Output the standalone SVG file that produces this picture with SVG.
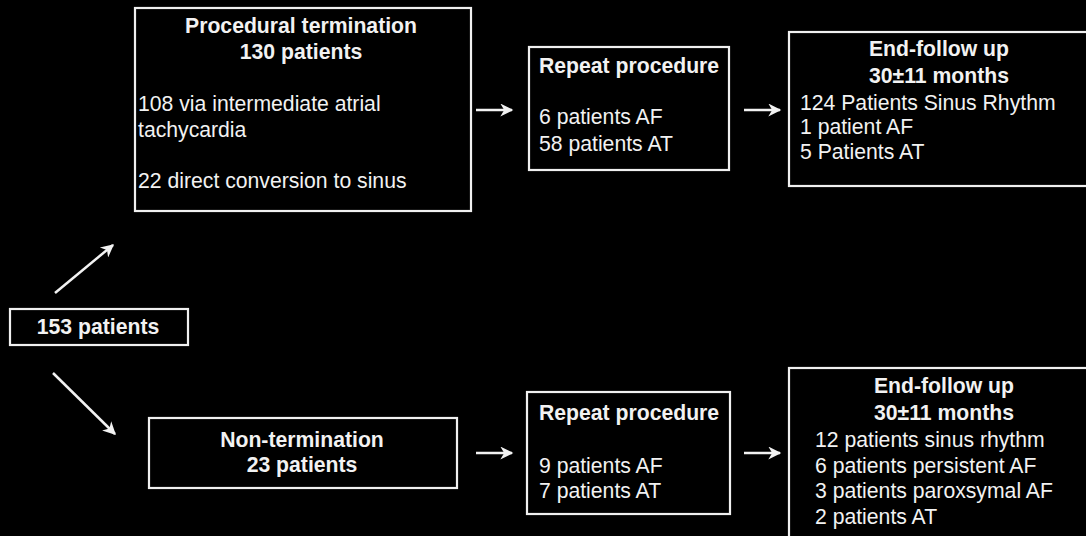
<svg xmlns="http://www.w3.org/2000/svg" width="1086" height="536" viewBox="0 0 1086 536">
  <defs>
    <style>
      .bg { fill: #000000; }
      .box { fill: #000000; stroke: #f0f0f0; stroke-width: 2.2; }
      .t { font-family: "Liberation Sans", Arial, Helvetica, sans-serif; font-size: 21.2px; fill: #f2f2f2; }
      .b { font-family: "Liberation Sans", Arial, Helvetica, sans-serif; font-size: 21.2px; font-weight: bold; fill: #f2f2f2; }
      .c { text-anchor: middle; }
      .conn { stroke: #f2f2f2; stroke-width: 2.5; fill: none; marker-end: url(#arrow); }
    </style>
    <marker id="arrow" viewBox="0 0 10 10" refX="9" refY="5" markerWidth="15" markerHeight="13" markerUnits="userSpaceOnUse" orient="auto">
      <path d="M0,0 L10,5 L0,10 L3,5 z" fill="#f2f2f2"/>
    </marker>
  </defs>
  <rect class="bg" x="0" y="0" width="1086" height="536"/>

  <g id="start">
    <rect class="box" x="10" y="309" width="178" height="36"/>
    <text class="b c" x="98" y="334">153 patients</text>
  </g>

  <g id="termination">
    <rect class="box" x="135" y="8" width="336" height="203"/>
    <text class="b c" x="301" y="33">Procedural termination</text>
    <text class="b c" x="301" y="59">130 patients</text>
    <text class="t" x="138" y="111">108 via intermediate atrial</text>
    <text class="t" x="138" y="137">tachycardia</text>
    <text class="t" x="138" y="188">22 direct conversion to sinus</text>
  </g>

  <g id="repeat-top">
    <rect class="box" x="529" y="47" width="200" height="123"/>
    <text class="b" x="539" y="73">Repeat procedure</text>
    <text class="t" x="539" y="124">6 patients AF</text>
    <text class="t" x="539" y="151">58 patients AT</text>
  </g>

  <g id="followup-top">
    <rect class="box" x="789" y="32" width="320" height="154"/>
    <text class="b c" x="939" y="56">End-follow up</text>
    <text class="b c" x="939" y="83">30±11 months</text>
    <text class="t" x="800" y="110">124 Patients Sinus Rhythm</text>
    <text class="t" x="800" y="134">1 patient AF</text>
    <text class="t" x="800" y="159">5 Patients AT</text>
  </g>

  <g id="non-termination">
    <rect class="box" x="149" y="418" width="308" height="70"/>
    <text class="b c" x="302" y="447">Non-termination</text>
    <text class="b c" x="302" y="472">23 patients</text>
  </g>

  <g id="repeat-bottom">
    <rect class="box" x="527" y="392" width="203" height="122"/>
    <text class="b" x="539" y="420">Repeat procedure</text>
    <text class="t" x="539" y="473">9 patients AF</text>
    <text class="t" x="539" y="498">7 patients AT</text>
  </g>

  <g id="followup-bottom">
    <rect class="box" x="789" y="368" width="320" height="200"/>
    <text class="b c" x="944" y="393">End-follow up</text>
    <text class="b c" x="944" y="420">30±11 months</text>
    <text class="t" x="815" y="447">12 patients sinus rhythm</text>
    <text class="t" x="815" y="473">6 patients persistent AF</text>
    <text class="t" x="815" y="498">3 patients paroxsymal AF</text>
    <text class="t" x="815" y="524">2 patients AT</text>
  </g>

  <g id="connectors">
    <line class="conn" x1="55" y1="293" x2="113" y2="245"/>
    <line class="conn" x1="53" y1="373" x2="115" y2="434"/>
    <line class="conn" x1="476" y1="110" x2="512" y2="110"/>
    <line class="conn" x1="744" y1="110" x2="780" y2="110"/>
    <line class="conn" x1="476" y1="453" x2="512" y2="453"/>
    <line class="conn" x1="744" y1="453" x2="780" y2="453"/>
  </g>
</svg>
